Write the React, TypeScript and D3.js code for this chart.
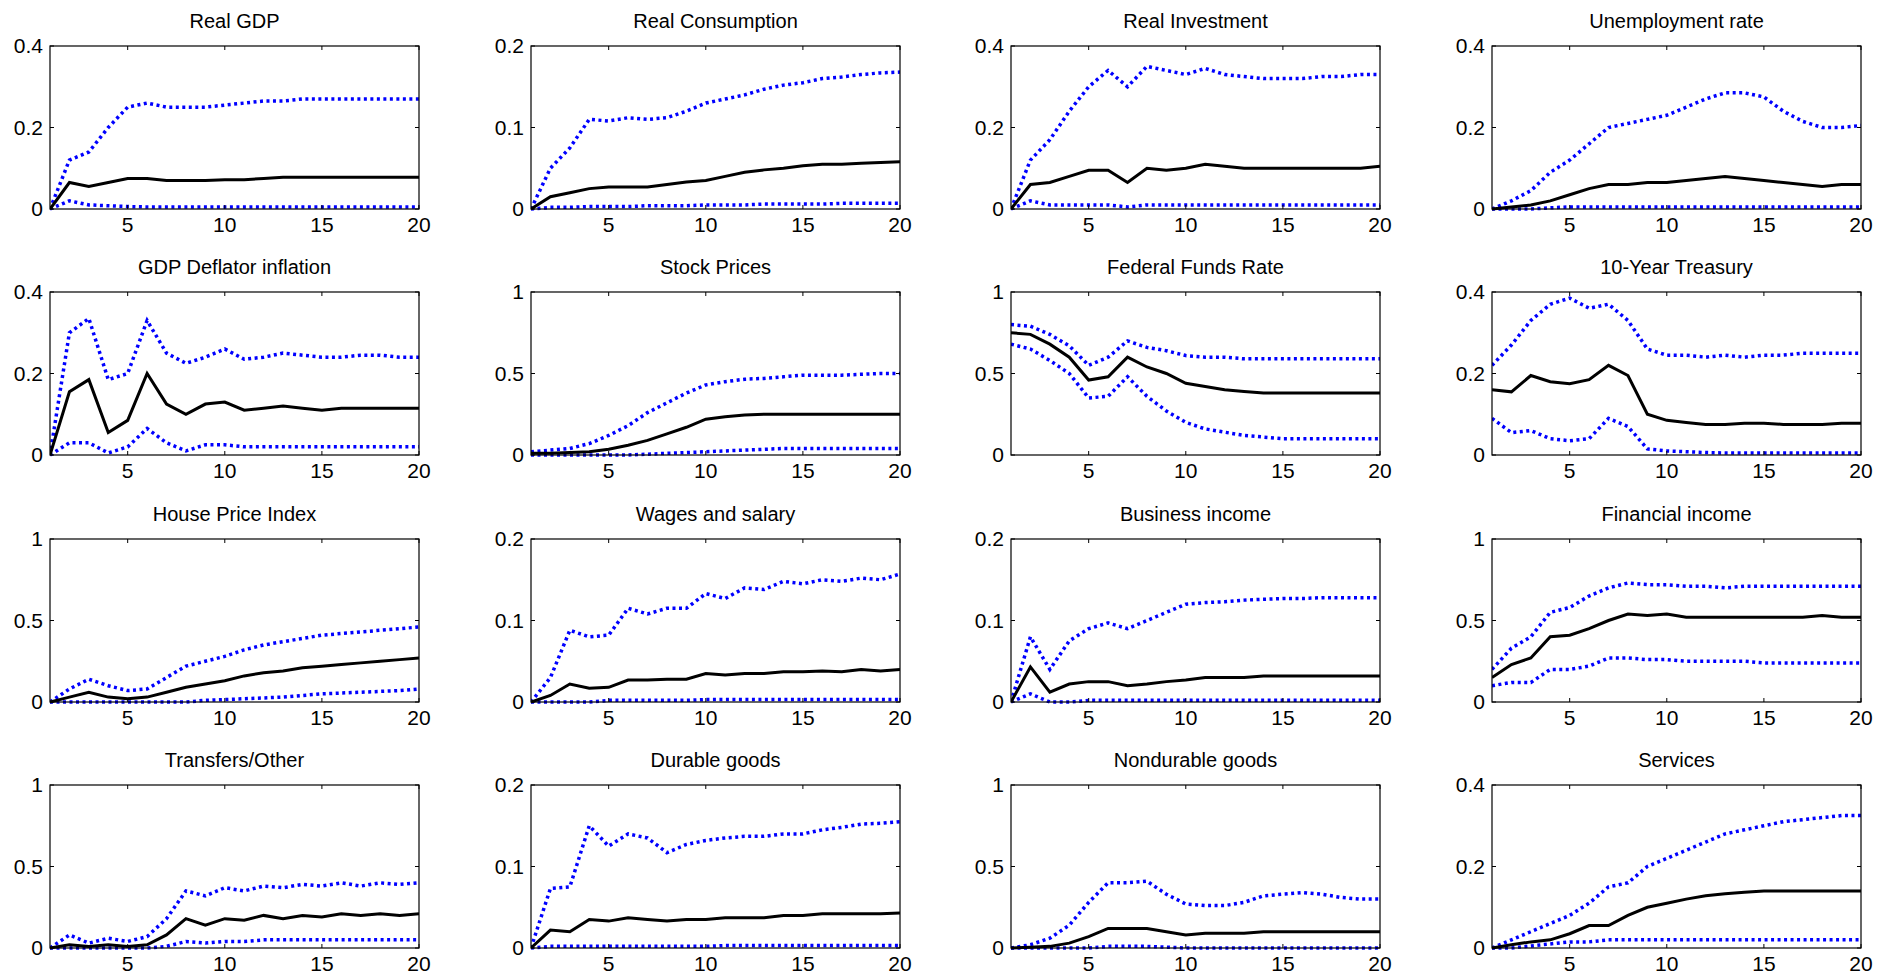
import * as d3 from 'd3';

const TITLES = [
  'Real GDP', 'Real Consumption', 'Real Investment', 'Unemployment rate',
  'GDP Deflator inflation', 'Stock Prices', 'Federal Funds Rate', '10-Year Treasury',
  'House Price Index', 'Wages and salary', 'Business income', 'Financial income',
  'Transfers/Other', 'Durable goods', 'Nondurable goods', 'Services',
];
const YMAX = [0.4, 0.2, 0.4, 0.4, 0.4, 1, 1, 0.4, 1, 0.2, 0.2, 1, 1, 0.2, 1, 0.4];

const MID = [
  [0, 0.065, 0.055, 0.065, 0.075, 0.075, 0.07, 0.07, 0.07, 0.072, 0.072, 0.075, 0.078, 0.078, 0.078, 0.078, 0.078, 0.078, 0.078, 0.078],
  [0, 0.015, 0.02, 0.025, 0.027, 0.027, 0.027, 0.03, 0.033, 0.035, 0.04, 0.045, 0.048, 0.05, 0.053, 0.055, 0.055, 0.056, 0.057, 0.058],
  [0, 0.06, 0.065, 0.08, 0.095, 0.095, 0.065, 0.1, 0.095, 0.1, 0.11, 0.105, 0.1, 0.1, 0.1, 0.1, 0.1, 0.1, 0.1, 0.105],
  [0, 0.005, 0.01, 0.02, 0.035, 0.05, 0.06, 0.06, 0.065, 0.065, 0.07, 0.075, 0.08, 0.075, 0.07, 0.065, 0.06, 0.055, 0.06, 0.06],
  [0, 0.155, 0.185, 0.055, 0.085, 0.2, 0.125, 0.1, 0.125, 0.13, 0.11, 0.115, 0.12, 0.115, 0.11, 0.115, 0.115, 0.115, 0.115, 0.115],
  [0.01, 0.01, 0.015, 0.02, 0.035, 0.06, 0.09, 0.13, 0.17, 0.22, 0.235, 0.245, 0.25, 0.25, 0.25, 0.25, 0.25, 0.25, 0.25, 0.25],
  [0.75, 0.74, 0.68, 0.6, 0.46, 0.48, 0.6, 0.54, 0.5, 0.44, 0.42, 0.4, 0.39, 0.38, 0.38, 0.38, 0.38, 0.38, 0.38, 0.38],
  [0.16, 0.155, 0.195, 0.18, 0.175, 0.185, 0.22, 0.195, 0.1, 0.085, 0.08, 0.075, 0.075, 0.078, 0.078, 0.075, 0.075, 0.075, 0.078, 0.078],
  [0, 0.03, 0.06, 0.03, 0.02, 0.03, 0.06, 0.09, 0.11, 0.13, 0.16, 0.18, 0.19, 0.21, 0.22, 0.23, 0.24, 0.25, 0.26, 0.27],
  [0, 0.008, 0.022, 0.017, 0.018, 0.027, 0.027, 0.028, 0.028, 0.035, 0.033, 0.035, 0.035, 0.037, 0.037, 0.038, 0.037, 0.04, 0.038, 0.04],
  [0, 0.043, 0.012, 0.022, 0.025, 0.025, 0.02, 0.022, 0.025, 0.027, 0.03, 0.03, 0.03, 0.032, 0.032, 0.032, 0.032, 0.032, 0.032, 0.032],
  [0.15, 0.23, 0.27, 0.4, 0.41, 0.45, 0.5, 0.54, 0.53, 0.54, 0.52, 0.52, 0.52, 0.52, 0.52, 0.52, 0.52, 0.53, 0.52, 0.52],
  [0, 0.02, 0.01, 0.02, 0.01, 0.02, 0.08, 0.18, 0.14, 0.18, 0.17, 0.2, 0.18, 0.2, 0.19, 0.21, 0.2, 0.21, 0.2, 0.21],
  [0, 0.022, 0.02, 0.035, 0.033, 0.037, 0.035, 0.033, 0.035, 0.035, 0.037, 0.037, 0.037, 0.04, 0.04, 0.042, 0.042, 0.042, 0.042, 0.043],
  [0, 0.005, 0.01, 0.03, 0.07, 0.12, 0.12, 0.12, 0.1, 0.08, 0.09, 0.09, 0.09, 0.1, 0.1, 0.1, 0.1, 0.1, 0.1, 0.1],
  [0, 0.008, 0.015, 0.02, 0.035, 0.055, 0.055, 0.08, 0.1, 0.11, 0.12, 0.128, 0.133, 0.137, 0.14, 0.14, 0.14, 0.14, 0.14, 0.14],
];

const UPPER = [
  [0, 0.12, 0.14, 0.2, 0.25, 0.26, 0.25, 0.25, 0.25, 0.255, 0.26, 0.265, 0.265, 0.27, 0.27, 0.27, 0.27, 0.27, 0.27, 0.27],
  [0, 0.05, 0.075, 0.11, 0.108, 0.112, 0.11, 0.112, 0.12, 0.13, 0.135, 0.14, 0.147, 0.152, 0.155, 0.16, 0.162, 0.165, 0.167, 0.168],
  [0, 0.12, 0.17, 0.24, 0.3, 0.34, 0.3, 0.35, 0.34, 0.33, 0.345, 0.33, 0.325, 0.32, 0.32, 0.32, 0.325, 0.325, 0.33, 0.33],
  [0, 0.02, 0.045, 0.09, 0.12, 0.16, 0.2, 0.21, 0.22, 0.23, 0.25, 0.27, 0.285, 0.285, 0.275, 0.24, 0.215, 0.2, 0.2, 0.205],
  [0, 0.3, 0.335, 0.185, 0.2, 0.33, 0.25, 0.225, 0.24, 0.26, 0.235, 0.24, 0.25, 0.245, 0.24, 0.24, 0.245, 0.245, 0.24, 0.24],
  [0.02, 0.03, 0.04, 0.07, 0.12, 0.18, 0.26, 0.32, 0.38, 0.43, 0.45, 0.465, 0.47, 0.48, 0.49, 0.49, 0.49, 0.495, 0.5, 0.5],
  [0.8, 0.79, 0.74, 0.67, 0.55, 0.6, 0.7, 0.66, 0.64, 0.61, 0.6, 0.6, 0.59, 0.59, 0.59, 0.59, 0.59, 0.59, 0.59, 0.59],
  [0.22, 0.27, 0.33, 0.37, 0.385, 0.36, 0.37, 0.33, 0.26, 0.245, 0.245, 0.24, 0.245, 0.24, 0.245, 0.245, 0.25, 0.25, 0.25, 0.25],
  [0, 0.08, 0.14, 0.1, 0.07, 0.08, 0.15, 0.22, 0.25, 0.28, 0.32, 0.35, 0.37, 0.39, 0.41, 0.42, 0.43, 0.44, 0.45, 0.46],
  [0, 0.03, 0.088, 0.08, 0.082, 0.115, 0.108, 0.115, 0.115, 0.133, 0.127, 0.14, 0.138, 0.148, 0.145, 0.15, 0.148, 0.152, 0.15, 0.157],
  [0, 0.08, 0.04, 0.075, 0.09, 0.097, 0.09, 0.1, 0.11, 0.12, 0.122, 0.123, 0.125, 0.126, 0.127, 0.127, 0.128, 0.128, 0.128, 0.128],
  [0.2, 0.33, 0.4, 0.55, 0.58, 0.65, 0.7, 0.73, 0.72, 0.72, 0.71, 0.71, 0.7, 0.71, 0.71, 0.71, 0.71, 0.71, 0.71, 0.71],
  [0, 0.08, 0.03, 0.06, 0.04, 0.07, 0.18, 0.35, 0.32, 0.37, 0.35, 0.38, 0.37, 0.39, 0.38, 0.4, 0.38, 0.4, 0.39, 0.4],
  [0, 0.073, 0.075, 0.15, 0.125, 0.14, 0.135, 0.117, 0.127, 0.132, 0.135, 0.137, 0.137, 0.14, 0.14, 0.145, 0.148, 0.152, 0.153, 0.155],
  [0, 0.02, 0.06, 0.14, 0.28, 0.4, 0.4, 0.41, 0.33, 0.27, 0.26, 0.26, 0.28, 0.32, 0.33, 0.34, 0.33, 0.31, 0.3, 0.3],
  [0, 0.02, 0.04, 0.06, 0.08, 0.11, 0.15, 0.16, 0.2, 0.22, 0.24, 0.26, 0.28, 0.29, 0.3, 0.31, 0.315, 0.32, 0.325, 0.325],
];

const LOWER = [
  [0, 0.02, 0.01, 0.008, 0.006, 0.005, 0.005, 0.005, 0.005, 0.005, 0.005, 0.005, 0.005, 0.005, 0.005, 0.005, 0.005, 0.005, 0.005, 0.005],
  [0, 0.002, 0.002, 0.003, 0.003, 0.003, 0.004, 0.004, 0.004, 0.005, 0.005, 0.005, 0.006, 0.006, 0.006, 0.006, 0.007, 0.007, 0.007, 0.007],
  [0, 0.02, 0.01, 0.01, 0.01, 0.01, 0.005, 0.01, 0.01, 0.01, 0.01, 0.01, 0.01, 0.01, 0.01, 0.01, 0.01, 0.01, 0.01, 0.01],
  [0, 0, 0, 0.003, 0.005, 0.005, 0.005, 0.005, 0.005, 0.005, 0.005, 0.005, 0.005, 0.005, 0.005, 0.005, 0.005, 0.005, 0.005, 0.005],
  [0, 0.03, 0.03, 0.005, 0.02, 0.065, 0.03, 0.01, 0.025, 0.025, 0.02, 0.02, 0.02, 0.02, 0.02, 0.02, 0.02, 0.02, 0.02, 0.02],
  [0, 0, 0, 0, 0, 0, 0.005, 0.01, 0.015, 0.02, 0.025, 0.03, 0.035, 0.04, 0.04, 0.04, 0.04, 0.04, 0.04, 0.04],
  [0.68, 0.65, 0.58, 0.5, 0.35, 0.36, 0.48, 0.36, 0.27, 0.2, 0.16, 0.14, 0.12, 0.11, 0.1, 0.1, 0.1, 0.1, 0.1, 0.1],
  [0.09, 0.055, 0.06, 0.04, 0.035, 0.04, 0.09, 0.07, 0.015, 0.01, 0.008, 0.006, 0.005, 0.005, 0.005, 0.005, 0.005, 0.005, 0.005, 0.005],
  [0, 0, 0, 0, 0, 0, 0, 0, 0.01, 0.015, 0.02, 0.025, 0.03, 0.04, 0.05, 0.055, 0.06, 0.065, 0.07, 0.08],
  [0, 0, 0, 0, 0.002, 0.002, 0.002, 0.002, 0.002, 0.003, 0.003, 0.003, 0.003, 0.003, 0.003, 0.003, 0.003, 0.003, 0.003, 0.003],
  [0, 0.01, 0, 0, 0.002, 0.002, 0.002, 0.002, 0.002, 0.002, 0.002, 0.002, 0.002, 0.002, 0.002, 0.002, 0.002, 0.002, 0.002, 0.002],
  [0.1, 0.12, 0.12, 0.2, 0.2, 0.22, 0.27, 0.27, 0.26, 0.26, 0.25, 0.25, 0.25, 0.25, 0.24, 0.24, 0.24, 0.24, 0.24, 0.24],
  [0, 0, 0, 0, 0, 0, 0.01, 0.04, 0.03, 0.04, 0.04, 0.05, 0.05, 0.05, 0.05, 0.05, 0.05, 0.05, 0.05, 0.05],
  [0, 0.002, 0.002, 0.002, 0.002, 0.002, 0.002, 0.002, 0.002, 0.002, 0.003, 0.003, 0.003, 0.003, 0.003, 0.003, 0.003, 0.003, 0.003, 0.003],
  [0, 0, 0, 0, 0, 0.01, 0.01, 0.01, 0.005, 0, 0, 0, 0, 0, 0, 0, 0, 0, 0, 0],
  [0, 0, 0.005, 0.01, 0.015, 0.015, 0.02, 0.02, 0.02, 0.02, 0.02, 0.02, 0.02, 0.02, 0.02, 0.02, 0.02, 0.02, 0.02, 0.02],
];

const X_TICKS = [5, 10, 15, 20];
const COL_LEFT = [50, 531, 1011, 1492];
const ROW_TOP = [46, 292, 539, 785];
const PW = 369;
const PH = 163;
const FONT = 'Arial, "Liberation Sans", sans-serif';

const fmt = (v: number) => (v === 0 ? '0' : String(v));

const Panel = ({ idx }: { idx: number }) => {
  const x = d3.scaleLinear().domain([1, 20]).range([0, PW]);
  const y = d3.scaleLinear().domain([0, YMAX[idx]]).range([PH, 0]);
  const yTicks = [0, YMAX[idx] / 2, YMAX[idx]].map((v) => +v.toFixed(2));
  const line = d3
    .line<number>()
    .x((_, i) => x(i + 1))
    .y((d) => y(d));
  const left = COL_LEFT[idx % 4];
  const top = ROW_TOP[Math.floor(idx / 4)];
  return (
    <g transform={`translate(${left},${top})`}>
      <text x={PW / 2} y={-18} textAnchor="middle" fontSize={20} fontFamily={FONT}>
        {TITLES[idx]}
      </text>
      <defs>
        <clipPath id={`c${idx}`}>
          <rect x={0} y={-3} width={PW} height={PH + 6} />
        </clipPath>
      </defs>
      <g clipPath={`url(#c${idx})`}>
        <path d={line(UPPER[idx]) ?? ''} fill="none" stroke="#0000ff" strokeWidth={3.5} strokeDasharray="3,3.5" />
        <path d={line(LOWER[idx]) ?? ''} fill="none" stroke="#0000ff" strokeWidth={3.5} strokeDasharray="3,3.5" />
        <path d={line(MID[idx]) ?? ''} fill="none" stroke="#000" strokeWidth={3} />
      </g>
      <rect x={0} y={0} width={PW} height={PH} fill="none" stroke="#000" strokeWidth={1.2} />
      {X_TICKS.map((t) => (
        <g key={t}>
          <line x1={x(t)} x2={x(t)} y1={PH} y2={PH - 4} stroke="#000" />
          <line x1={x(t)} x2={x(t)} y1={0} y2={4} stroke="#000" />
          <text x={x(t)} y={PH + 23} textAnchor="middle" fontSize={21} fontFamily={FONT}>
            {t}
          </text>
        </g>
      ))}
      {yTicks.map((t) => (
        <g key={t}>
          <line x1={0} x2={4} y1={y(t)} y2={y(t)} stroke="#000" />
          <line x1={PW} x2={PW - 4} y1={y(t)} y2={y(t)} stroke="#000" />
          <text x={-7} y={y(t) + 7} textAnchor="end" fontSize={21} fontFamily={FONT}>
            {fmt(t)}
          </text>
        </g>
      ))}
    </g>
  );
};

export default function App() {
  return (
    <svg width={1896} height={979} style={{ display: 'block', position: 'absolute', left: 0, top: 0 }}>
      <rect width={1896} height={979} fill="#fff" />
      {TITLES.map((_, i) => (
        <Panel key={i} idx={i} />
      ))}
    </svg>
  );
}
